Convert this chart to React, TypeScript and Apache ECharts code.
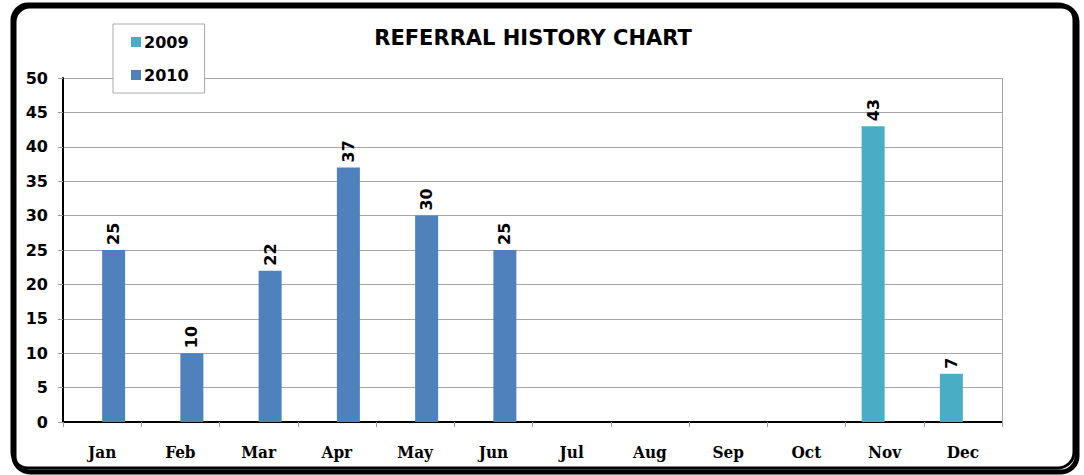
import React, { useEffect, useRef } from "react";
import * as echarts from "echarts";

const months = ["Jan", "Feb", "Mar", "Apr", "May", "Jun", "Jul", "Aug", "Sep", "Oct", "Nov", "Dec"];
const values2009: (number | string)[] = ["-", "-", "-", "-", "-", "-", "-", "-", "-", "-", 43, 7];
const values2010: (number | string)[] = [25, 10, 22, 37, 30, 25, "-", "-", "-", "-", "-", "-"];

export default function App() {
  const ref = useRef<HTMLDivElement>(null);
  useEffect(() => {
    document.body.style.margin = "0";
    const chart = echarts.init(ref.current!, null, { renderer: "svg" });
    const labelCfg = {
      show: true,
      position: "top" as const,
      rotate: 90,
      align: "left" as const,
      verticalAlign: "middle" as const,
      distance: 5,
      color: "#000",
      fontFamily: "DejaVu Sans",
      fontWeight: "bold" as const,
      fontSize: 16,
    };
    chart.setOption({
      animation: false,
      backgroundColor: "#fff",
      title: {
        text: "REFERRAL HISTORY CHART",
        left: 528,
        textAlign: "center",
        top: 22,
        textStyle: { fontFamily: "DejaVu Sans", fontWeight: "bold", fontSize: 21, color: "#000" },
      },
      legend: {
        orient: "vertical",
        left: 113,
        top: 24,
        padding: [10, 16, 10, 18],
        itemGap: 17,
        itemWidth: 10,
        itemHeight: 10,
        icon: "rect",
        borderColor: "#aaa",
        borderWidth: 1,
        backgroundColor: "#fff",
        data: ["2009", "2010"],
        textStyle: { fontFamily: "DejaVu Sans", fontWeight: "bold", fontSize: 16, color: "#000", padding: [0, 0, 0, -2] },
        z: 10,
      },
      grid: { left: 63, right: 82, top: 78, bottom: 53, containLabel: false },
      xAxis: {
        type: "category",
        data: months,
        boundaryGap: true,
        axisLine: { lineStyle: { color: "#000", width: 2 } },
        axisTick: { show: true, length: 5, inside: false, lineStyle: { color: "#999" } },
        axisLabel: { margin: 21, color: "#000", fontFamily: "DejaVu Serif Condensed", fontWeight: "bold", fontSize: 17 },
      },
      yAxis: {
        type: "value",
        min: 0,
        max: 50,
        interval: 5,
        axisLine: { show: true, lineStyle: { color: "#000", width: 2 } },
        axisTick: { show: true, length: 5, lineStyle: { color: "#999" } },
        splitLine: { lineStyle: { color: "#a6a6a6", width: 1 } },
        axisLabel: { margin: 15, color: "#000", fontFamily: "DejaVu Sans", fontWeight: "bold", fontSize: 16 },
      },
      series: [
        {
          name: "2009",
          type: "bar",
          barWidth: 23,
          barGap: "0%",
          itemStyle: { color: "#4BACC6" },
          label: labelCfg,
          data: values2009,
        },
        {
          name: "2010",
          type: "bar",
          barWidth: 23,
          barGap: "0%",
          itemStyle: { color: "#4F81BD" },
          label: labelCfg,
          data: values2010,
        },
      ],
      graphic: [
        {
          type: "line",
          shape: { x1: 1002.5, y1: 78, x2: 1002.5, y2: 422 },
          style: { stroke: "#a6a6a6", lineWidth: 1 },
          z: 5,
        },
        {
          type: "rect",
          shape: { x: 14, y: 6, width: 1063, height: 466, r: 16 },
          style: { fill: "none", stroke: "#000", lineWidth: 5 },
          z: 100,
        },
        {
          type: "rect",
          shape: { x: 12, y: 4, width: 1062, height: 464, r: 16 },
          style: { fill: "none", stroke: "#000", lineWidth: 3 },
          z: 100,
        },
      ],
    });
    return () => chart.dispose();
  }, []);
  return <div ref={ref} style={{ width: 1084, height: 475 }} />;
}
